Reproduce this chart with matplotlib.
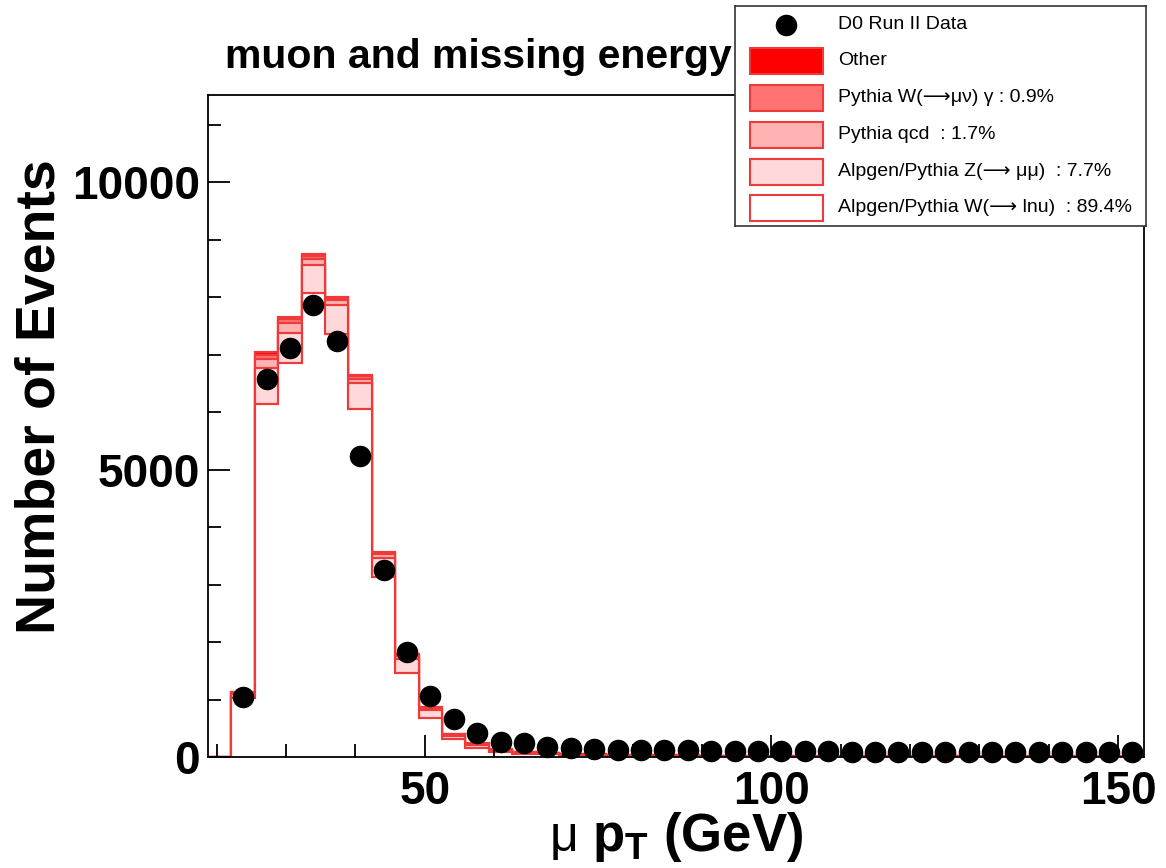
import numpy as np
import matplotlib
matplotlib.use("Agg")
import matplotlib.pyplot as plt
from matplotlib.patches import Rectangle
from matplotlib.ticker import MultipleLocator

plt.rcParams['font.family'] = ['Liberation Sans', 'DejaVu Sans']
plt.rcParams['mathtext.fontset'] = 'custom'
plt.rcParams['mathtext.bf'] = 'Liberation Sans:bold'
plt.rcParams['mathtext.rm'] = 'Liberation Sans'

# 40 bins of 3.375 GeV
edges = np.linspace(18.75, 153.75, 41)

# stacked MC components, bottom to top
w_lnu = [0, 1030, 6150, 6860, 8080, 7360, 6060, 3135, 1455, 673, 307, 150, 90, 60, 45,
         36, 30, 26, 22, 20, 18, 16, 15, 14, 13, 12, 11, 11, 10, 10,
         9, 9, 8, 8, 8, 7, 7, 7, 6, 6]
z_mumu = [0, 60, 620, 510, 475, 504, 450, 330, 250, 140, 65, 60, 28, 22, 20,
          15, 12, 10, 9, 8, 7, 6, 6, 5, 5, 5, 4, 4, 4, 4,
          3, 3, 3, 3, 3, 3, 2, 2, 2, 2]
qcd = [0, 20, 150, 185, 116, 87, 75, 60, 50, 30, 15, 15, 8, 6, 5,
       4, 3, 3, 3, 2, 2, 2, 2, 2, 1, 1, 1, 1, 1, 1,
       1, 1, 1, 1, 1, 1, 1, 1, 1, 1]
w_gamma = [0, 15, 80, 70, 50, 32, 40, 30, 25, 14, 8, 8, 4, 3, 3,
           2, 2, 2, 2, 2, 1, 1, 1, 1, 1, 1, 1, 1, 1, 1,
           1, 1, 1, 1, 1, 1, 1, 1, 1, 1]
other = [0, 11, 50, 34, 25, 15, 18, 15, 11, 7, 5, 5, 3, 2, 2,
         1, 1, 1, 1, 1, 1, 1, 1, 1, 1, 1, 1, 1, 1, 1,
         1, 1, 1, 1, 1, 1, 1, 1, 1, 1]

data = [np.nan, 1049, 6585, 7125, 7873, 7240, 5240, 3252, 1832, 1061, 660, 412, 266, 238, 180,
        151, 135, 128, 122, 118, 114, 110, 106, 103, 100, 98, 96, 95, 94, 93,
        93, 92, 92, 91, 91, 90, 90, 89, 89, 88]

labels = ["Other",
          "Pythia W(\u27f6\u03bc\u03bd) \u03b3 : 0.9%",
          "Pythia qcd  : 1.7%",
          "Alpgen/Pythia Z(\u27f6 \u03bc\u03bc)  : 7.7%",
          "Alpgen/Pythia W(\u27f6 lnu)  : 89.4%"]
fills = ['#ff0000', '#ff7373', '#ffb3b3', '#ffd9d9', '#ffffff']
edge_col = '#ee3a3a'

W, H = 1166, 868
fig = plt.figure(figsize=(W / 100, H / 100), dpi=100)
ax = fig.add_axes([208 / W, 1 - 757 / H, 936 / W, 662 / H])

# cumulative stack, drawn from the total down
stack = np.cumsum(np.array([w_lnu, z_mumu, qcd, w_gamma, other], dtype=float), axis=0)[::-1]
for lev, fc in zip(stack, fills):
    ax.stairs(lev, edges, fill=True, facecolor=fc, edgecolor=edge_col, linewidth=1.5)
    ax.stairs(lev, edges, color=edge_col, linewidth=1.5)

centers = 0.5 * (edges[:-1] + edges[1:])
ax.plot(centers, data, 'o', color='black', ms=14.5, clip_on=False, zorder=5)

ax.set_xlim(edges[0], edges[-1])
ax.set_ylim(0, 11520)
ax.xaxis.set_major_locator(MultipleLocator(50))
ax.xaxis.set_minor_locator(MultipleLocator(10))
ax.yaxis.set_major_locator(MultipleLocator(5000))
ax.yaxis.set_minor_locator(MultipleLocator(1000))
ax.tick_params(which='both', direction='in', width=1.3, colors='black')
ax.tick_params(which='major', length=16, labelsize=33, pad=6)
ax.tick_params(which='minor', length=9.5)
ax.tick_params(axis='x', which='major', pad=9)
for lab in ax.get_xticklabels() + ax.get_yticklabels():
    lab.set_fontweight('bold')
for sp in ax.spines.values():
    sp.set_linewidth(1.3)

fig.text(225 / W, 1 - 68 / H, "muon and missing energy", fontsize=29.5,
         fontweight='bold', va='baseline', ha='left')
fig.text(41 / W, 1 - 397 / H, "Number of Events", fontsize=40, fontweight='bold',
         rotation=90, ha='center', va='center')
fig.text(550 / W, 1 - 851 / H, "\u03bc", fontsize=36, va='baseline', ha='left')
fig.text(592 / W, 1 - 851 / H, r"p$_\mathbf{T}$ (GeV)", fontsize=38,
         fontweight='bold', va='baseline', ha='left')

# legend box in pixel coordinates
lx0, ly0, lw, lh = 735, 6, 411, 220
lax = fig.add_axes([lx0 / W, 1 - (ly0 + lh) / H, lw / W, lh / H], zorder=10)
lax.set_xlim(0, lw)
lax.set_ylim(lh, 0)
lax.set_xticks([])
lax.set_yticks([])
for sp in lax.spines.values():
    sp.set_linewidth(1.2)
    sp.set_color('#333333')

row_y = [19, 55, 92, 129, 166, 202]
lax.plot([786 - lx0], [row_y[0]], 'o', color='black', ms=14.5)
lax.text(838 - lx0, row_y[0], "D0 Run II Data", fontsize=14, va='center', ha='left')
for y, lab, fc in zip(row_y[1:], labels, fills):
    lax.add_patch(Rectangle((750 - lx0, y - 13), 73, 26, facecolor=fc,
                            edgecolor=edge_col, linewidth=1.5))
    lax.text(838 - lx0, y, lab, fontsize=14, va='center', ha='left')

fig.savefig("out.png", dpi=100)
